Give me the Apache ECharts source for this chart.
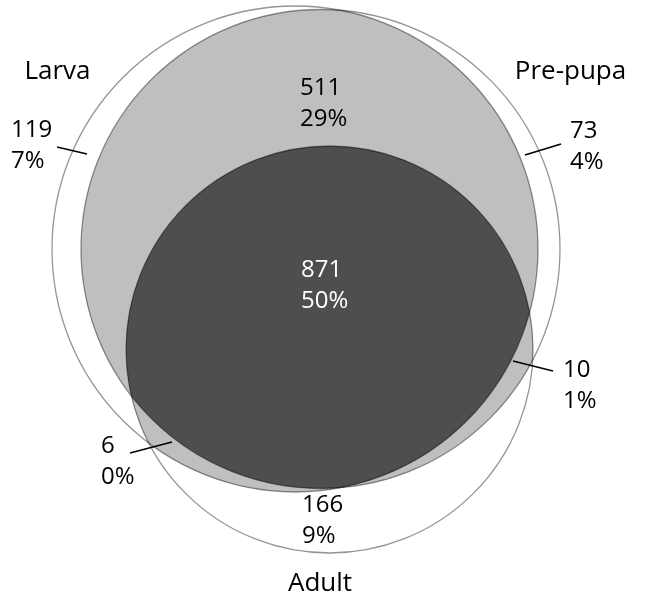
<!DOCTYPE html>
<html>
<head>
<meta charset="utf-8">
<script src="https://cdn.jsdelivr.net/npm/echarts@6/dist/echarts.min.js"></script>
<style>
html,body{margin:0;padding:0;background:#ffffff;}
#chart{width:646px;height:607px;}
</style>
</head>
<body>
<div id="chart"></div>
<script>
// ---- data ----
const setNames = ['Larva', 'Pre-pupa', 'Adult'];
const regionKeys = ['L', 'P', 'A', 'LP', 'LA', 'PA', 'LPA'];
const regionCounts = [119, 73, 166, 511, 6, 10, 871];

// ---- layout (axis units = pixels) ----
const circleLayout = {
  L: { cx: 295, cy: 249, r: 243 },
  P: { cx: 320.5, cy: 249, r: 239.5 },
  A: { cx: 329.5, cy: 349.5, r: 203.5 }
};
const setKeys = ['L', 'P', 'A'];
const setLabelPos = { L: [57.5, 72], P: [570.5, 72], A: [320, 584] };
const regionLabelPos = {
  L: [11, 146], P: [570, 146.5], A: [302, 521],
  LP: [300, 103.5], LA: [101, 461.5], PA: [563, 386], LPA: [301, 285.5]
};
const leaderLines = {
  L: [[57, 147], [87, 154]],
  P: [[525, 155], [561, 144]],
  PA: [[513, 361], [553, 371]],
  LA: [[130, 453], [172, 442]]
};

const total = regionCounts.reduce((a, b) => a + b, 0);
const FONT = '"Open Sans", "Noto Sans", sans-serif';

function toPx(api, c) {
  const p = api.coord([c.cx, c.cy]);
  const r = api.size([c.r, 0])[0];
  return { cx: p[0], cy: p[1], r: r };
}

// convex intersection of circles, traced by rays from an interior point
function intersectionPolygon(circs) {
  let ox = 0, oy = 0;
  circs.forEach(c => { ox += c.cx; oy += c.cy; });
  ox /= circs.length; oy /= circs.length;
  const pts = [];
  const N = 1440;
  for (let k = 0; k < N; k++) {
    const t = k / N * Math.PI * 2;
    const ux = Math.cos(t), uy = Math.sin(t);
    let best = Infinity;
    circs.forEach(c => {
      const dx = ox - c.cx, dy = oy - c.cy;
      const b = ux * dx + uy * dy;
      const cc = dx * dx + dy * dy - c.r * c.r;
      const tt = -b + Math.sqrt(Math.max(b * b - cc, 0));
      if (tt < best) best = tt;
    });
    pts.push([ox + best * ux, oy + best * uy]);
  }
  return pts;
}

const chart = echarts.init(document.getElementById('chart'), null, { renderer: 'canvas' });

const fillKeys = ['LP', 'LA', 'PA', 'LPA'];

const option = {
  backgroundColor: '#ffffff',
  animation: false,
  grid: { left: 0, right: 0, top: 0, bottom: 0 },
  xAxis: { type: 'value', min: 0, max: 646, show: false },
  yAxis: { type: 'value', min: 0, max: 607, inverse: true, show: false },
  series: [
    {
      type: 'custom',
      name: 'regions',
      coordinateSystem: 'cartesian2d',
      silent: true,
      data: fillKeys.map((k, i) => [i, 0]),
      renderItem: function (params, api) {
        const key = fillKeys[params.dataIndex];
        const circs = key.split('').map(s => toPx(api, circleLayout[s]));
        return {
          type: 'polygon',
          shape: { points: intersectionPolygon(circs) },
          style: { fill: key.length === 3 ? '#4e4e4e' : '#bfbfbf', stroke: null }
        };
      }
    },
    {
      type: 'custom',
      name: 'sets',
      coordinateSystem: 'cartesian2d',
      silent: true,
      data: setNames.map((n, i) => [i, 0]),
      renderItem: function (params, api) {
        const key = setKeys[params.dataIndex];
        const c = toPx(api, circleLayout[key]);
        const lp = api.coord(setLabelPos[key]);
        return {
          type: 'group',
          children: [
            {
              type: 'circle',
              shape: { cx: c.cx, cy: c.cy, r: c.r },
              style: { fill: null, stroke: 'rgba(0,0,0,0.42)', lineWidth: 1.3 }
            },
            {
              type: 'text',
              x: lp[0], y: lp[1],
              style: {
                text: setNames[params.dataIndex],
                fill: '#000000',
                fontSize: 26,
                fontFamily: FONT,
                align: 'center',
                verticalAlign: 'middle'
              }
            }
          ]
        };
      }
    },
    {
      type: 'custom',
      name: 'counts',
      coordinateSystem: 'cartesian2d',
      silent: true,
      data: regionCounts.map((v, i) => [i, v]),
      renderItem: function (params, api) {
        const i = params.dataIndex;
        const key = regionKeys[i];
        const count = regionCounts[i];
        const pct = Math.round(count / total * 100) + '%';
        const lp = api.coord(regionLabelPos[key]);
        const children = [{
          type: 'text',
          x: lp[0], y: lp[1],
          style: {
            text: count + '\n' + pct,
            fill: key === 'LPA' ? '#ffffff' : '#000000',
            fontSize: 24,
            fontFamily: FONT,
            lineHeight: 31,
            align: 'left',
            verticalAlign: 'middle'
          }
        }];
        if (leaderLines[key]) {
          const a = api.coord(leaderLines[key][0]);
          const b = api.coord(leaderLines[key][1]);
          children.push({
            type: 'line',
            shape: { x1: a[0], y1: a[1], x2: b[0], y2: b[1] },
            style: { stroke: '#000000', lineWidth: 1.6 }
          });
        }
        return { type: 'group', children: children };
      }
    }
  ]
};
chart.setOption(option);
</script>
</body>
</html>
